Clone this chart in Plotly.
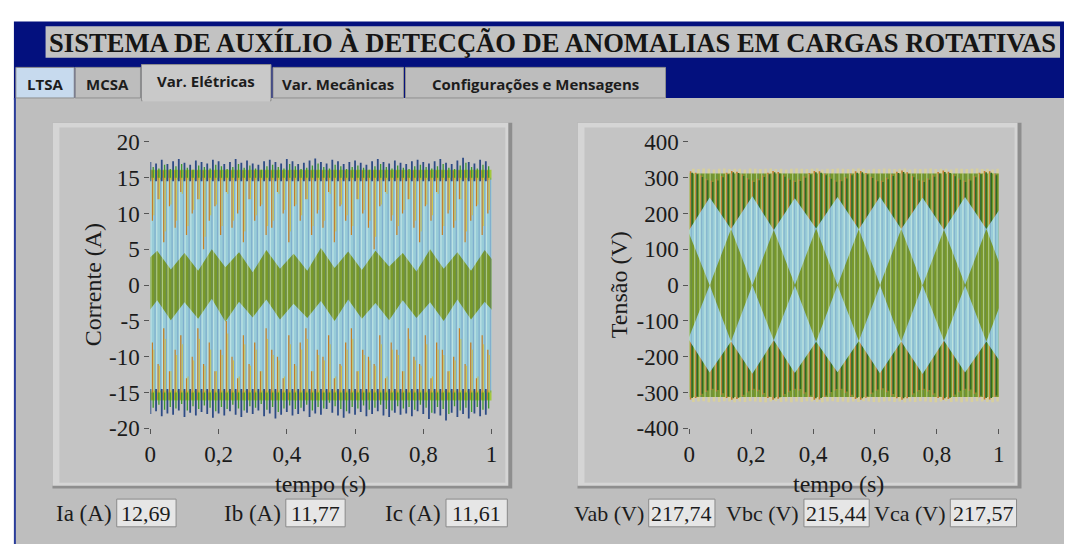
import plotly.graph_objects as go

W, H = 1070, 557

# ---------------------------------------------------------------- data
FREQ = 60                       # Hz (one visible stripe per cycle)
ciclos = list(range(60))        # cycle index inside the 1 s window

titulo = "SISTEMA DE AUXÍLIO À DETECÇÃO DE ANOMALIAS EM CARGAS ROTATIVAS"
abas = ["LTSA", "MCSA", "Var. Elétricas", "Var. Mecânicas", "Configurações e Mensagens"]

x_tickvals = [0, 0.2, 0.4, 0.6, 0.8, 1]
x_ticktext = ["0", "0,2", "0,4", "0,6", "0,8", "1"]
i_tickvals = [-20, -15, -10, -5, 0, 5, 10, 15, 20]
i_ticktext = ["-20", "-15", "-10", "-5", "0", "5", "10", "15", "20"]
v_tickvals = [-400, -300, -200, -100, 0, 100, 200, 300, 400]
v_ticktext = ["-400", "-300", "-200", "-100", "0", "100", "200", "300", "400"]

# Corrente (A) -- per-cycle peaks
i_patamar = 15.0                # flat level where the clipped plateau sits
i_topo = [17.2, 17.0, 17.5, 16.9, 17.3, 17.6, 17.1, 16.8, 17.4, 17.2, 17.0, 17.5,
          17.3, 16.9, 17.2, 17.6, 17.1, 17.4, 17.0, 16.8, 17.3, 17.5, 17.2, 17.0,
          17.6, 17.3, 16.9, 17.1, 17.4, 17.7, 17.2, 17.0, 17.5, 17.3, 16.9, 17.2,
          17.4, 17.1, 16.8, 17.3, 17.6, 17.2, 17.0, 17.4, 17.1, 16.9, 17.3, 17.5,
          17.2, 17.0, 17.3, 17.6, 17.1, 16.9, 17.4, 17.8, 17.2, 17.0, 17.5, 17.3]
i_base = [-18.0, -17.6, -18.3, -17.9, -18.1, -17.5, -18.4, -17.8, -18.2, -17.7, -18.0, -18.5,
          -17.9, -18.2, -17.6, -18.1, -18.4, -17.8, -18.0, -17.5, -18.3, -17.9, -18.6, -18.1,
          -17.7, -18.2, -18.0, -17.6, -18.4, -17.9, -18.1, -17.3, -17.8, -18.2, -18.5, -17.9,
          -18.1, -17.7, -18.3, -18.0, -17.6, -18.2, -18.4, -17.8, -18.1, -17.9, -18.3, -17.6,
          -18.0, -18.7, -17.9, -18.2, -18.9, -17.8, -18.4, -18.0, -18.6, -17.9, -18.3, -18.1]
i_laranja_sup = [9, 12, 6, 11, 8, 13, 7, 10, 12, 5, 9, 11, 7, 13, 8, 10, 6, 12, 9, 11,
                 7, 8, 13, 10, 6, 11, 9, 12, 7, 10, 8, 13, 6, 11, 9, 7, 12, 10, 8, 5,
                 11, 13, 9, 7, 10, 12, 8, 6, 11, 9, 13, 7, 10, 8, 12, 6, 9, 11, 7, 10]
i_laranja_inf = [-8, -11, -6, -12, -9, -7, -13, -10, -6, -11, -8, -12, -9, -5, -10, -13, -7, -11, -8, -12,
                 -6, -9, -10, -13, -7, -11, -8, -6, -12, -9, -10, -7, -13, -11, -8, -6, -12, -9, -10, -11,
                 -7, -13, -8, -9, -12, -6, -10, -11, -7, -13, -8, -9, -12, -10, -6, -11, -8, -13, -7, -9]
i_faixa_t = [-0.02, 0.02, 0.06, 0.10, 0.14, 0.18, 0.22, 0.26, 0.30, 0.34, 0.38, 0.42, 0.46, 0.50,
             0.54, 0.58, 0.62, 0.66, 0.70, 0.74, 0.78, 0.82, 0.86, 0.90, 0.94, 0.98, 1.02]
i_faixa_sup = [3.0, 4.8, 2.2, 4.5, 2.0, 5.0, 2.5, 4.6, 1.8, 4.9, 2.3, 4.4, 2.0, 5.2,
               2.4, 4.7, 2.1, 4.8, 2.6, 4.5, 1.9, 5.0, 2.3, 4.6, 2.0, 4.9, 2.5]
i_faixa_inf = [-4.6, -2.1, -4.9, -2.4, -4.7, -1.9, -5.1, -2.3, -4.5, -2.0, -4.8, -2.6, -4.6, -2.2,
               -5.0, -2.0, -4.7, -2.5, -4.9, -2.1, -4.6, -2.4, -5.0, -2.0, -4.8, -2.3, -4.5]

# Tensão (V)
v_patamar = 312.0
v_pico_sup = [325, 324, 326, 325, 323, 325, 326, 324, 325, 325, 323, 326, 325, 324, 325,
              326, 324, 325, 323, 325, 326, 325, 324, 325, 326, 323, 325, 324, 326, 325,
              324, 325, 326, 325, 323, 325, 324, 326, 325, 324, 325, 326, 323, 325, 324,
              325, 326, 324, 325, 325, 323, 326, 325, 324, 325, 326, 324, 325, 323, 325]
v_pico_inf = [-326, -325, -324, -327, -325, -326, -324, -325, -327, -325, -326, -324, -325, -326, -327,
              -325, -324, -326, -325, -327, -325, -326, -324, -325, -326, -327, -325, -324, -326, -325,
              -327, -325, -326, -324, -325, -326, -327, -325, -324, -326, -325, -327, -325, -326, -324,
              -325, -326, -327, -325, -324, -326, -325, -327, -325, -326, -324, -325, -326, -327, -325]
v_escuro_sup = [318, 314, 306, 297, 292, 296, 305, 314, 319, 317, 309, 299, 292, 297, 306,
                314, 319, 316, 307, 298, 292, 295, 304, 313, 319, 318, 311, 301, 293, 294,
                302, 311, 318, 319, 313, 303, 294, 292, 300, 309, 317, 320, 315, 305, 296,
                292, 298, 307, 316, 320, 317, 308, 298, 292, 296, 305, 314, 319, 318, 311]
v_escuro_inf = [-319, -315, -307, -298, -293, -297, -306, -315, -320, -318, -310, -300, -293, -296, -305,
                -315, -320, -317, -308, -299, -293, -294, -303, -312, -320, -319, -312, -302, -294, -293,
                -301, -310, -318, -320, -314, -304, -295, -292, -299, -308, -316, -320, -316, -306, -297,
                -293, -297, -306, -315, -320, -318, -309, -299, -293, -295, -304, -313, -319, -319, -312]
v_centros = [-0.003, 0.135, 0.273, 0.410, 0.548, 0.685, 0.823, 0.960, 1.098]
v_losango = [150, 157, 154, 158, 156, 157, 155, 157, 152]
v_cruz = [0.066, 0.204, 0.341, 0.479, 0.616, 0.754, 0.891, 1.029]
v_pipa_sup = [245, 248, 243, 246, 247, 244, 246, 245]
v_pipa_inf = [-244, -247, -245, -243, -246, -248, -244, -245]

ind_corrente_nomes = ["Ia (A)", "Ib (A)", "Ic (A)"]
ind_corrente_valores = ["12,69", "11,77", "11,61"]
ind_tensao_nomes = ["Vab (V)", "Vbc (V)", "Vca (V)"]
ind_tensao_valores = ["217,74", "215,44", "217,57"]

# ---------------------------------------------------------------- styles
SERIF = "Liberation Serif, Times New Roman, serif"
SANS = "Open Sans, Noto Sans, DejaVu Sans, sans-serif"
NAVY = "#03107E"
PANEL = "#BEBEBE"
AZUL = "#98CCD8"
OLIVA = "#78992A"
AMARELO_VERDE = "#A2C83C"
LARANJA = "#C47E28"
VERDE_ESC = "#2E6C1D"
MARINHO = "#2D4B86"
BEGE = "#D8D09C"


def px(x):
    return x / W


def py(y):
    return 1 - y / H


def t_of(offset):
    return [(n + offset) / FREQ for n in ciclos]


def segs(ts, lo, hi):
    xs, ys = [], []
    for t, a, b in zip(ts, lo, hi):
        xs += [t, t, None]
        ys += [a, b, None]
    return xs, ys


fig = go.Figure()


def line_tr(xs, ys, color, width, ax):
    fig.add_trace(go.Scatter(x=xs, y=ys, mode="lines", line=dict(color=color, width=width),
                             xaxis=ax[0], yaxis=ax[1], hoverinfo="skip", showlegend=False,
                             connectgaps=False))


def fill_tr(xs, ys, color, ax):
    fig.add_trace(go.Scatter(x=xs, y=ys, mode="lines", fill="toself", fillcolor=color,
                             line=dict(width=0, color=color), xaxis=ax[0], yaxis=ax[1],
                             hoverinfo="skip", showlegend=False))


# ---------------------------------------------------------------- current chart
AX1 = ("x", "y")
n = len(ciclos)
fill_tr([-0.01, 1.01, 1.01, -0.01], [i_patamar, i_patamar, -i_patamar, -i_patamar], AZUL, AX1)
fill_tr([-0.01, 1.01, 1.01, -0.01], [i_patamar - 0.3, i_patamar - 0.3, i_patamar + 1.1, i_patamar + 1.1],
        AMARELO_VERDE, AX1)
fill_tr([-0.01, 1.01, 1.01, -0.01], [-i_patamar + 0.3, -i_patamar + 0.3, -i_patamar - 1.1, -i_patamar - 1.1],
        AMARELO_VERDE, AX1)
xs, ys = segs(t_of(0.35), [i_patamar + 1.0] * n, i_laranja_sup)
line_tr(xs, ys, LARANJA, 1.3, AX1)
xs, ys = segs(t_of(0.35), [-i_patamar - 1.0] * n, i_laranja_inf)
line_tr(xs, ys, LARANJA, 1.3, AX1)
xs, ys = segs(t_of(0.62), [i_patamar] * n, [v * 0.75 + 3 for v in i_laranja_sup])
line_tr(xs, ys, "#CFC64A", 1.0, AX1)
xs, ys = segs(t_of(0.62), [-i_patamar] * n, [v * 0.75 - 3 for v in i_laranja_inf])
line_tr(xs, ys, "#CFC64A", 1.0, AX1)
fill_tr(i_faixa_t + i_faixa_t[::-1], i_faixa_sup + i_faixa_inf[::-1], OLIVA, AX1)
xs, ys = segs(t_of(0.12), [-i_patamar] * n, [i_patamar] * n)
line_tr(xs, ys, "rgba(235,255,245,0.45)", 1.2, AX1)
xs, ys = segs(t_of(0.82), [-i_patamar] * n, [i_patamar] * n)
line_tr(xs, ys, "rgba(70,100,180,0.28)", 1.2, AX1)
xs, ys = segs(t_of(0.0), [i_patamar - 0.5] * n, i_topo)
line_tr(xs, ys, MARINHO, 1.8, AX1)
xs, ys = segs(t_of(0.0), [-i_patamar + 0.5] * n, i_base)
line_tr(xs, ys, MARINHO, 1.8, AX1)
xs, ys = segs(t_of(0.5), [i_patamar] * n, [v - 0.7 for v in i_topo])
line_tr(xs, ys, "#3F9A2E", 1.3, AX1)
xs, ys = segs(t_of(0.5), [-i_patamar] * n, [v + 0.9 for v in i_base])
line_tr(xs, ys, "#3F9A2E", 1.3, AX1)

# ---------------------------------------------------------------- voltage chart
AX2 = ("x2", "y2")
xs, ys = segs(t_of(0.8), [v_patamar - 20] * n, v_pico_sup)
line_tr(xs, ys, BEGE, 2.6, AX2)
xs, ys = segs(t_of(0.8), [-v_patamar + 20] * n, v_pico_inf)
line_tr(xs, ys, BEGE, 2.6, AX2)
fill_tr([-0.01, 1.01, 1.01, -0.01], [v_patamar, v_patamar, -v_patamar, -v_patamar], OLIVA, AX2)
xs, ys = segs(t_of(0.25), v_escuro_inf, v_escuro_sup)
line_tr(xs, ys, LARANJA, 1.6, AX2)
xs, ys = segs(t_of(0.55), [v + 4 for v in v_escuro_inf], [v - 4 for v in v_escuro_sup])
line_tr(xs, ys, VERDE_ESC, 1.6, AX2)
kx_up, ky_up, kx_dn, ky_dn = [], [], [], []
for k in range(len(v_cruz)):
    kx_up += [v_centros[k], v_cruz[k]]
    ky_up += [v_losango[k], v_pipa_sup[k]]
    kx_dn += [v_centros[k], v_cruz[k]]
    ky_dn += [-v_losango[k], v_pipa_inf[k]]
kx_up.append(v_centros[-1]); ky_up.append(v_losango[-1])
kx_dn.append(v_centros[-1]); ky_dn.append(-v_losango[-1])
fill_tr(kx_up + kx_dn[::-1], ky_up + ky_dn[::-1], AZUL, AX2)
dx, dy = [], []
hw = (v_centros[1] - v_centros[0]) / 2
for c, a in zip(v_centros, v_losango):
    dx += [c - hw, c, c + hw, c, c - hw, None]
    dy += [0, a, 0, -a, 0, None]
fill_tr(dx, dy, OLIVA, AX2)
xs, ys = segs(t_of(0.05), [-v_patamar] * n, [v_patamar] * n)
line_tr(xs, ys, "rgba(235,255,235,0.45)", 1.2, AX2)
xs, ys = segs(t_of(0.4), [-v_patamar] * n, [v_patamar] * n)
line_tr(xs, ys, "rgba(70,100,170,0.25)", 1.0, AX2)

# ---------------------------------------------------------------- axes
axis_common = dict(showgrid=False, zeroline=False, showline=False, ticks="outside", ticklen=5,
                   tickwidth=1, tickcolor="#555", fixedrange=True,
                   tickfont=dict(family=SERIF, size=23, color="#1b1b1b"))
PL_T, PL_B = 136, 436
fig.update_layout(
    xaxis=dict(domain=[px(146), px(491)], range=[0, 1], tickvals=x_tickvals, ticktext=x_ticktext,
               anchor="y", **axis_common),
    yaxis=dict(domain=[py(PL_B), py(PL_T)], range=[-20, 20], tickvals=i_tickvals, ticktext=i_ticktext,
               anchor="x", **axis_common),
    xaxis2=dict(domain=[px(691), px(1004)], range=[0, 1], tickvals=x_tickvals, ticktext=x_ticktext,
                anchor="y2", **axis_common),
    yaxis2=dict(domain=[py(PL_B), py(PL_T)], range=[-400, 400], tickvals=v_tickvals, ticktext=v_ticktext,
                anchor="x2", **axis_common),
)

# ---------------------------------------------------------------- UI chrome
shapes = []


def rect(x0, y0, x1, y1, fill, line=None, lw=0):
    shapes.append(dict(type="rect", xref="paper", yref="paper", x0=px(x0), x1=px(x1),
                       y0=py(y1), y1=py(y0), fillcolor=fill, layer="below",
                       line=dict(width=lw, color=line or fill)))


rect(0, 0, W, H, "white")
rect(8, 10, W, 92, NAVY)
rect(8, 90, W, H, PANEL)
rect(8, 90, 10, H, "#2A3C9A")
rect(40, 15, 1066, 48, "#C2C2C2")
tab_x = [(10, 69), (70, 136), (137, 268), (270, 402), (404, 667)]
tab_fill = ["#C7DAEE", "#BDBDBD", "#C9C9C9", "#BDBDBD", "#BDBDBD"]
for (a, b), f, name in zip(tab_x, tab_fill, abas):
    top = 55 if name == "Var. Elétricas" else 58
    bot = 93 if name == "Var. Elétricas" else 90
    rect(a, top, b, bot, f, "#8F8F8F", 1)
rect(138, 89, 267, 94, "#C9C9C9")
for (a, b) in [(47, 512), (578, 1027)]:
    rect(a, 116, b, 499, "#8E8E8E")
    rect(a, 116, b - 4, 496, "#D5D5D5")
    rect(a + 7, 121, b - 7, 493, "#C4C4C4")
ind_boxes_c = [(112, 172), (283, 343), (445, 507)]
ind_boxes_v = [(650, 717), (807, 873), (955, 1022)]
for a, b in ind_boxes_c + ind_boxes_v:
    rect(a, 510, b, 539, "#E6E6E6", "#8A8A8A", 1)

ann = []


def text(x, y, s, size, family=SERIF, color="#1b1b1b", angle=0, xanchor="center"):
    ann.append(dict(x=px(x), y=py(y), xref="paper", yref="paper", text=s, showarrow=False,
                    xanchor=xanchor, yanchor="middle", textangle=angle,
                    font=dict(family=family, size=size, color=color)))


text(553, 32, "<b>" + titulo + "</b>", 26.6, color="#151515")
for (a, b), name in zip(tab_x, abas):
    yy = 72 if name == "Var. Elétricas" else 75
    text((a + b) / 2, yy, "<b>" + name + "</b>", 15, family=SANS, color="#1c1c1c")
text(88, 286, "Corrente (A)", 24, angle=-90)
text(620, 286, "Tensão (V)", 24, angle=-90)
text(318, 494, "tempo (s)", 24)
text(842, 494, "tempo (s)", 24)
for (a, b), nome, val in zip(ind_boxes_c, ind_corrente_nomes, ind_corrente_valores):
    text(a - 3, 525, nome, 23, xanchor="right")
    text((a + b) / 2, 525, val, 22)
for (a, b), nome, val in zip(ind_boxes_v, ind_tensao_nomes, ind_tensao_valores):
    text(a - 3, 525, nome, 22, xanchor="right")
    text((a + b) / 2, 525, val, 22)

fig.update_layout(
    width=W, height=H, autosize=False, margin=dict(l=0, r=0, t=0, b=0, pad=0),
    paper_bgcolor="white", plot_bgcolor="white", showlegend=False,
    shapes=shapes, annotations=ann, separators=", ",
)

fig.write_html("out.html", config={"displayModeBar": False})
